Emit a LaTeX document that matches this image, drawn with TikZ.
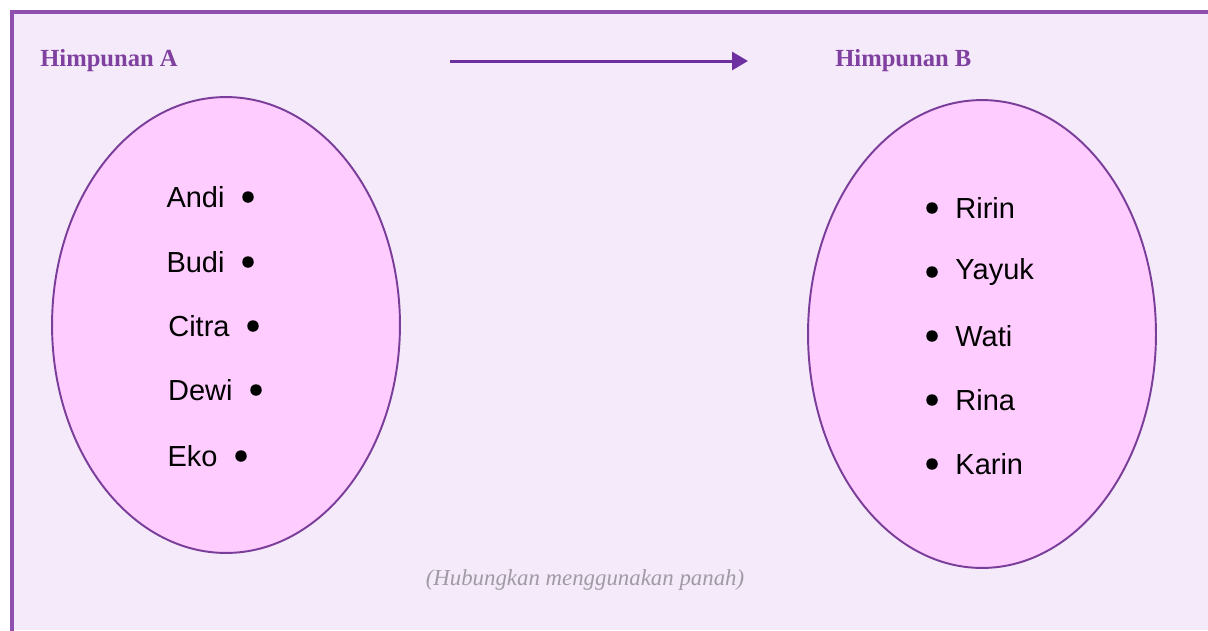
\documentclass[tikz,border=0pt]{standalone}
\usepackage{fontspec}
\setmainfont{Liberation Serif}
\setsansfont{Liberation Sans}
\usetikzlibrary{positioning,arrows.meta,shapes.geometric}
\definecolor{framepurple}{HTML}{8E4FAE}
\definecolor{sheetbg}{HTML}{F4EAF9}
\definecolor{setfill}{HTML}{FFCCFF}
\definecolor{setline}{HTML}{7A3D99}
\definecolor{titlepurple}{HTML}{8040A0}
\definecolor{arrowpurple}{HTML}{6E30A0}
\definecolor{hintgray}{HTML}{A09AA4}

\begin{document}
\begin{tikzpicture}[x=0.02cm, y=-0.02cm, node distance=0.34cm,
  set/.style={draw=setline, fill=setfill, line width=1.1pt, shape=ellipse, minimum width=6.96cm},
  dot/.style={fill=black, shape=circle, minimum size=0.23cm, inner sep=0pt},
  member/.style={font=\sffamily\fontsize{16.5}{19}\selectfont, inner sep=0pt},
  title/.style={font=\bfseries\fontsize{14}{16}\selectfont, text=titlepurple, inner sep=0pt, anchor=west},
  hint/.style={font=\itshape\fontsize{13}{15}\selectfont, text=hintgray, inner sep=0pt}]

      \useasboundingbox (0,0) rectangle (1208,630);
      \fill[white] (0,0) rectangle (1208,630);
      \fill[sheetbg] (12,12) rectangle (1208,630);
      \draw[framepurple, line width=2.2pt] (12,640) -- (12,12) -- (1220,12);

      \node[title] (titleA) at (40,61) {Himpunan A};
      \node[title] (titleB) at (835,61) {Himpunan B};

      \coordinate (arrowstart) at (450,61);
      \coordinate (arrowend) at (748,61);
      \draw[-{Triangle[length=0.32cm, width=0.36cm]}, arrowpurple, line width=1.7pt] (arrowstart) -- (arrowend);

      \node[set, minimum height=9.12cm] (setA) at (226,325) {};
      \node[set, minimum height=9.36cm] (setB) at (982,334) {};

      % Himpunan A
      \node[dot] (andi) at (248,197) {};
      \node[dot] (budi) at (248,262) {};
      \node[dot] (citra) at (253,326) {};
      \node[dot] (dewi) at (256,390) {};
      \node[dot] (eko) at (241,456) {};
      \node[member, left=of andi] (andiL) {Andi};
      \node[member, left=of budi] (budiL) {Budi};
      \node[member, left=of citra] (citraL) {Citra};
      \node[member, left=of dewi] (dewiL) {Dewi};
      \node[member, left=of eko] (ekoL) {Eko};

      % Himpunan B
      \node[dot] (ririn) at (932,208) {};
      \node[dot] (yayuk) at (932,272) {};
      \node[dot] (wati) at (932,336) {};
      \node[dot] (rina) at (932,400) {};
      \node[dot] (karin) at (932,464) {};
      \node[member, right=of ririn] (ririnL) {Ririn};
      \node[member, right=of yayuk] (yayukL) {Yayuk};
      \node[member, right=of wati] (watiL) {Wati};
      \node[member, right=of rina] (rinaL) {Rina};
      \node[member, right=of karin] (karinL) {Karin};

      \node[hint] (hint) at (585,580) {(Hubungkan menggunakan panah)};
\end{tikzpicture}
\end{document}
